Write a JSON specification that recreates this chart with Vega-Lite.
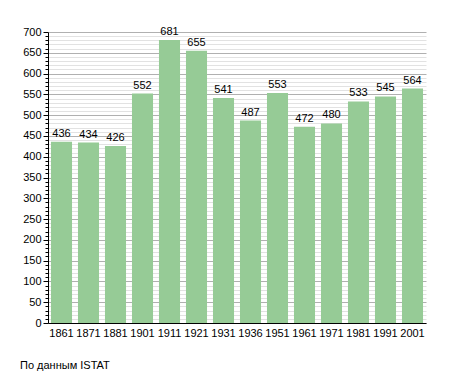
{
  "$schema": "https://vega.github.io/schema/vega-lite/v6.json",
  "width": 378,
  "height": 291,
  "autosize": "none",
  "padding": {"left": 48, "top": 32, "right": 29, "bottom": 50},
  "background": "white",
  "config": {"view": {"stroke": null}, "font": "Liberation Sans"},
  "title": {"text": "По данным ISTAT", "orient": "bottom", "anchor": "start", "frame": "group", "fontSize": 11, "fontWeight": "normal", "color": "black", "font": "Liberation Sans", "dx": -28, "offset": 22},
  "data": {"values": [
    {"year": "1861", "pop": 436},
    {"year": "1871", "pop": 434},
    {"year": "1881", "pop": 426},
    {"year": "1901", "pop": 552},
    {"year": "1911", "pop": 681},
    {"year": "1921", "pop": 655},
    {"year": "1931", "pop": 541},
    {"year": "1936", "pop": 487},
    {"year": "1951", "pop": 553},
    {"year": "1961", "pop": 472},
    {"year": "1971", "pop": 480},
    {"year": "1981", "pop": 533},
    {"year": "1991", "pop": 545},
    {"year": "2001", "pop": 564}
  ]},
  "encoding": {
    "x": {"field": "year", "type": "ordinal", "sort": null,
      "scale": {"paddingInner": 0.22, "paddingOuter": 0.11},
      "axis": {"title": null, "labelAngle": 0, "ticks": false, "domainColor": "black", "labelColor": "black", "labelFontSize": 11, "labelPadding": 4}},
    "y": {"field": "pop", "type": "quantitative",
      "scale": {"domain": [0, 700], "nice": false},
      "axis": {"title": null, "values": [0,10,20,30,40,50,60,70,80,90,100,110,120,130,140,150,160,170,180,190,200,210,220,230,240,250,260,270,280,290,300,310,320,330,340,350,360,370,380,390,400,410,420,430,440,450,460,470,480,490,500,510,520,530,540,550,560,570,580,590,600,610,620,630,640,650,660,670,680,690,700],
        "labelExpr": "datum.value % 50 === 0 ? datum.label : ''",
        "grid": true,
        "gridColor": {"condition": {"test": "datum.value % 50 === 0", "value": "#b0b0b0"}, "value": "#e2e2e2"},
        "tickSize": {"condition": {"test": "datum.value % 50 === 0", "value": 5}, "value": 3},
        "tickColor": "black", "domainColor": "black", "labelColor": "black", "labelFontSize": 11, "labelPadding": 2}}
  },
  "layer": [
    {"mark": {"type": "bar", "color": "#96cb96"}},
    {"mark": {"type": "text", "baseline": "bottom", "dy": -3, "fontSize": 11, "color": "black"},
     "encoding": {"text": {"field": "pop", "type": "quantitative"}}}
  ]
}
